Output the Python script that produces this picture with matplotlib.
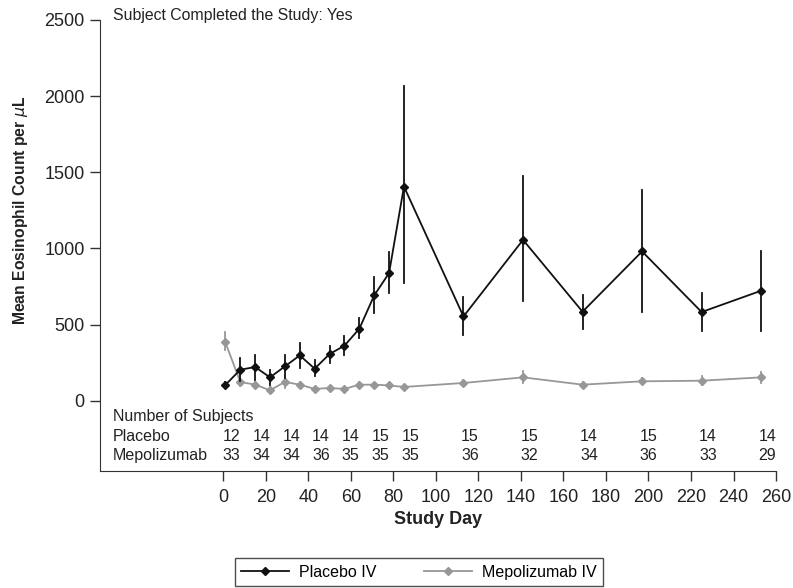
import matplotlib
matplotlib.use("Agg")
import matplotlib.pyplot as plt

plt.rcParams['font.family'] = ['Liberation Sans', 'DejaVu Sans']

# visit days and means
days = [1, 8, 15, 22, 29, 36, 43, 50, 57, 64, 71, 78, 85, 113, 141, 169, 197, 225, 253]
placebo_mean = [103, 203, 221, 153, 225, 297, 210, 306, 361, 472, 691, 838, 1406,
                553, 1056, 584, 980, 582, 722]
placebo_lo = [85, 127, 138, 105, 151, 214, 160, 247, 302, 411, 575, 706, 772,
              428, 656, 472, 579, 455, 455]
placebo_hi = [121, 280, 302, 203, 302, 378, 269, 356, 422, 542, 815, 979, 2066,
              678, 1476, 695, 1384, 710, 986]

mepo_mean = [383, 123, 105, 68, 123, 105, 77, 83, 77, 105, 105, 100, 90,
             116, 153, 105, 127, 131, 153]
mepo_lo = [330, 95, 85, 50, 85, 85, 62, 70, 62, 90, 92, 88, 78,
           98, 115, 90, 108, 100, 118]
mepo_hi = [448, 150, 125, 88, 160, 125, 92, 96, 92, 120, 118, 112, 102,
           134, 193, 120, 146, 162, 190]

# number of subjects table
count_days = [1, 15, 29, 43, 57, 71, 85, 113, 141, 169, 197, 225, 253]
placebo_n = [12, 14, 14, 14, 14, 15, 15, 15, 15, 14, 15, 14, 14]
mepo_n = [33, 34, 34, 36, 35, 35, 35, 36, 32, 34, 36, 33, 29]

black = '#111111'
grey = '#979797'
txt = '#222222'

fig = plt.figure(figsize=[7.93, 5.88], dpi=100)
ax = fig.add_axes([0.126, 0.1995, 0.8526, 0.7665])

# error bars + mean lines
for d, lo, hi in zip(days, mepo_lo, mepo_hi):
    ax.plot([d, d], [lo, hi], color=grey, lw=1.3, zorder=2)
ax.plot(days, mepo_mean, color=grey, lw=1.3, marker='D', markersize=4.5,
        label='Mepolizumab IV', zorder=3)

for d, lo, hi in zip(days, placebo_lo, placebo_hi):
    ax.plot([d, d], [lo, hi], color=black, lw=1.3, zorder=4)
ax.plot(days, placebo_mean, color=black, lw=1.3, marker='D', markersize=4.5,
        label='Placebo IV', zorder=5)

# axis setup
ax.set_xlim(-58, 260)
ax.set_ylim(-460, 2500)
ax.set_xticks(range(0, 261, 20))
ax.set_yticks(range(0, 2501, 500))
ax.spines['top'].set_visible(False)
ax.spines['right'].set_visible(False)
ax.tick_params(axis='both', labelsize=13, length=7, width=1, color='#333333',
               labelcolor=txt)
ax.tick_params(axis='x', pad=6)
ax.tick_params(axis='y', pad=4)
ax.spines['left'].set_color('#333333')
ax.spines['bottom'].set_color('#333333')
ax.set_xlabel('Study Day', fontsize=13, fontweight='bold', labelpad=4, color=txt)
ax.set_ylabel(r'Mean Eosinophil Count per $\mu$L', fontsize=11.3, fontweight='bold',
              color=txt)
ax.yaxis.set_label_coords(-0.104, 0.578)

# number of subjects table inside the axes
ax.text(-52, -105, 'Number of Subjects', fontsize=11.5, ha='left', va='center', color=txt)
ax.text(-52, -234, 'Placebo', fontsize=11.5, ha='left', va='center', color=txt)
ax.text(-52, -361, 'Mepolizumab', fontsize=11.5, ha='left', va='center', color=txt)
for d, n in zip(count_days, placebo_n):
    ax.text(d + 3, -234, str(n), fontsize=11.5, ha='center', va='center', color=txt)
for d, n in zip(count_days, mepo_n):
    ax.text(d + 3, -361, str(n), fontsize=11.5, ha='center', va='center', color=txt)

fig.text(0.143, 0.973, 'Subject Completed the Study: Yes', fontsize=11.4,
         ha='left', va='center', color=txt)

handles, labels = ax.get_legend_handles_labels()
leg = fig.legend(handles[::-1], labels[::-1], loc='center', bbox_to_anchor=(0.528, 0.027),
                 ncol=2, frameon=True, fancybox=False, fontsize=11.5,
                 handlelength=3.0, columnspacing=3.0, borderpad=0.4, handletextpad=0.6)
leg.get_frame().set_edgecolor('#222222')
leg.get_frame().set_linewidth(1)

fig.savefig('out.png', dpi=100)
